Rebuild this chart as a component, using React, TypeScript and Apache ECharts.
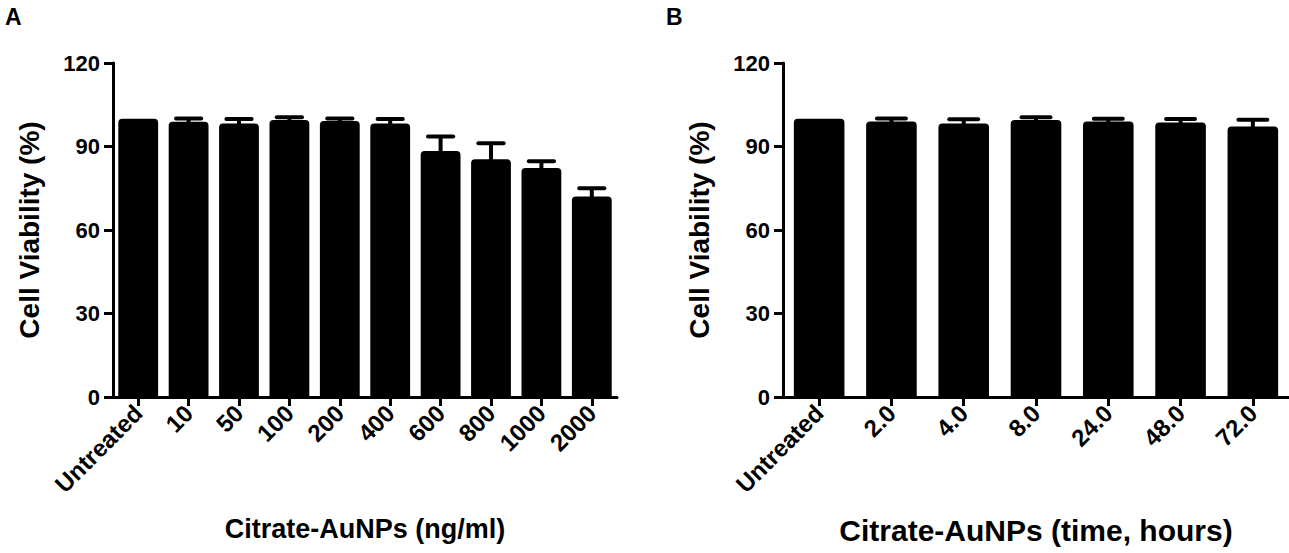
import React, { useEffect, useRef } from "react";
import * as echarts from "echarts";

const catsA = ["Untreated", "10", "50", "100", "200", "400", "600", "800", "1000", "2000"];
const meanA = [100, 98.9, 98.3, 99.5, 99.2, 98.3, 88.4, 85.4, 82.3, 72.0];
const errA = [0, 1.2, 1.6, 1.0, 0.9, 1.6, 5.2, 5.8, 2.4, 3.0];

const catsB = ["Untreated", "2.0", "4.0", "8.0", "24.0", "48.0", "72.0"];
const meanB = [100, 99.0, 98.3, 99.5, 99.0, 98.6, 97.2];
const errB = [0, 1.1, 1.5, 1.0, 1.0, 1.3, 2.4];

const yMin = 0;
const yMax = 120;
const yStep = 30;

const xTitleA = "Citrate-AuNPs (ng/ml)";
const xTitleB = "Citrate-AuNPs (time, hours)";
const yTitle = "Cell Viability (%)";

const FONT = "'Liberation Sans', Arial, Helvetica, sans-serif";

function errRender(capFrac: number) {
  return (params: any, api: any) => {
    const i = api.value(0);
    const m = api.value(1);
    const e = api.value(2);
    if (!e) return { type: "group", children: [] };
    const base = api.coord([i, m]);
    const top = api.coord([i, m + e]);
    const bw = api.size([1, 0])[0];
    const hw = (bw * capFrac) / 2;
    return {
      type: "group",
      children: [
        {
          type: "line",
          shape: { x1: base[0], y1: base[1] + 2, x2: top[0], y2: top[1] },
          style: { stroke: "#000", lineWidth: 4 },
        },
        {
          type: "line",
          shape: { x1: top[0] - hw, y1: top[1], x2: top[0] + hw, y2: top[1] },
          style: { stroke: "#000", lineWidth: 4, lineCap: "round" },
        },
      ],
    };
  };
}

export default function App() {
  const ref = useRef<HTMLDivElement>(null);
  useEffect(() => {
    document.body.style.margin = "0";
    if (!ref.current) return;
    const chart = echarts.init(ref.current, null, { renderer: "svg" });

    const axisLine = { show: true, lineStyle: { color: "#000", width: 3 } };
    const tick = { show: true, length: 9, lineStyle: { color: "#000", width: 3 } };
    const txt = { color: "#000", fontFamily: FONT, fontWeight: "bold" as const };

    const mkX = (cats: string[], idx: number, title: string, titleSize: number) => ({
      type: "category",
      gridIndex: idx,
      data: cats,
      axisLine,
      axisTick: { ...tick, alignWithLabel: true },
      axisLabel: { ...txt, fontSize: 24, rotate: 45, margin: 12, interval: 0 },
      name: title,
      nameLocation: "middle",
      nameGap: 118,
      nameTextStyle: { ...txt, fontSize: titleSize },
      splitLine: { show: false },
    });
    const mkY = (idx: number) => ({
      type: "value",
      gridIndex: idx,
      min: yMin,
      max: yMax,
      interval: yStep,
      axisLine,
      axisTick: tick,
      axisLabel: { ...txt, fontSize: 22, margin: 13 },
      name: yTitle,
      nameLocation: "middle",
      nameGap: 70,
      nameTextStyle: { ...txt, fontSize: 28 },
      splitLine: { show: false },
    });

    chart.setOption({
      animation: false,
      backgroundColor: "#fff",
      graphic: [
        { type: "text", left: 5, top: 5, style: { text: "A", font: `bold 23px ${FONT}`, fill: "#000" } },
        { type: "text", left: 666, top: 5, style: { text: "B", font: `bold 23px ${FONT}`, fill: "#000" } },
      ],
      grid: [
        { left: 113, top: 63, width: 504, height: 334 },
        { left: 783, top: 63, width: 506, height: 334 },
      ],
      xAxis: [mkX(catsA, 0, xTitleA, 27), mkX(catsB, 1, xTitleB, 30)],
      yAxis: [mkY(0), mkY(1)],
      series: [
        {
          type: "bar",
          xAxisIndex: 0,
          yAxisIndex: 0,
          data: meanA,
          barWidth: "79%",
          itemStyle: { color: "#000", borderRadius: [4, 4, 0, 0] },
        },
        {
          type: "custom",
          xAxisIndex: 0,
          yAxisIndex: 0,
          data: meanA.map((v, i) => [i, v, errA[i]]),
          encode: { x: 0, y: 1 },
          renderItem: errRender(0.5),
          z: 5,
        },
        {
          type: "bar",
          xAxisIndex: 1,
          yAxisIndex: 1,
          data: meanB,
          barWidth: "70%",
          itemStyle: { color: "#000", borderRadius: [4, 4, 0, 0] },
        },
        {
          type: "custom",
          xAxisIndex: 1,
          yAxisIndex: 1,
          data: meanB.map((v, i) => [i, v, errB[i]]),
          encode: { x: 0, y: 1 },
          renderItem: errRender(0.4),
          z: 5,
        },
      ],
    });
    return () => chart.dispose();
  }, []);
  return <div ref={ref} style={{ width: 1289, height: 553 }} />;
}
